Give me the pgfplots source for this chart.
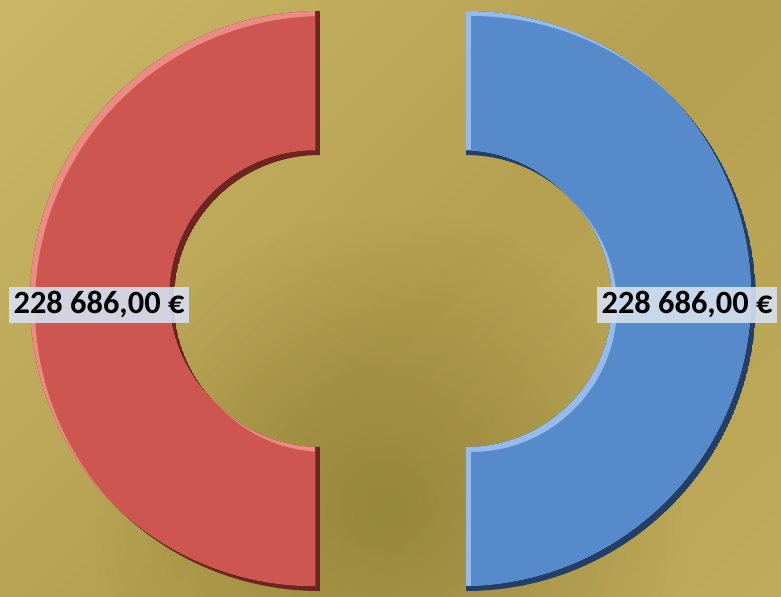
\documentclass[border=0pt]{standalone}
\usepackage{pgfplots}
\pgfplotsset{compat=1.18}
\usepackage{pgfplotstable}
\usetikzlibrary{fadings}
\usepackage{fontspec}
\setmainfont{Carlito}

\pgfplotstableread{
label value
Blue 228686
Red 228686
}\donut
\pgfplotstablegetelem{0}{value}\of\donut \let\vA\pgfplotsretval
\pgfplotstablegetelem{1}{value}\of\donut \let\vB\pgfplotsretval

% angles (degrees), clockwise from 12 o'clock
\edef\aA{\fpeval{\vA/(\vA+\vB)*360}}
\edef\aB{\fpeval{\vB/(\vA+\vB)*360}}
\edef\sA{90}
\edef\eA{\fpeval{90-\aA}}
\edef\sB{\eA}
\edef\eB{\fpeval{90-\aA-\aB}}
\edef\bA{\fpeval{90-\aA/2}}
\edef\bB{\fpeval{90-\aA-\aB/2}}
% exploded centres (pixels, y up)
\edef\cxA{\fpeval{393+73*cosd(\bA)}}
\edef\cyA{\fpeval{295+73*sind(\bA)}}
\edef\cxB{\fpeval{393+73*cosd(\bB)}}
\edef\cyB{\fpeval{295+73*sind(\bB)}}
% label positions
\edef\lxA{\fpeval{393+294*cosd(\bA)}}
\edef\lxB{\fpeval{393+294*cosd(\bB)}}

\definecolor{bgLight}{HTML}{CAB667}
\definecolor{bgMid}{HTML}{B4A050}
\definecolor{bgEnd}{HTML}{C0AA5B}
\definecolor{bgBlob}{HTML}{4D4600}
\definecolor{redBase}{HTML}{CD5651}
\definecolor{redLight}{HTML}{EC8A84}
\definecolor{redDark}{HTML}{6E2522}
\definecolor{blueBase}{HTML}{578ACB}
\definecolor{blueLight}{HTML}{94BBEA}
\definecolor{blueDark}{HTML}{223F68}
\definecolor{labelBg}{HTML}{D6E0EF}

\pgfdeclareverticalshading{goldbg}{100bp}{%
  color(0bp)=(bgEnd); color(15bp)=(bgEnd);
  color(48bp)=(bgMid); color(85bp)=(bgLight); color(100bp)=(bgLight)}
\tikzfading[name=blob, inner color=transparent!0, outer color=transparent!100]

\newcommand\slicepath[4]{(axis cs:#1,#2) ++(#3:145pt) arc[start angle=#3,end angle=#4,radius=145pt] -- ++(#4+180:72pt) arc[start angle=#4,end angle=#3,radius=73pt] -- cycle}
\newcommand\bevelslice[7]{%
  \begin{scope}
    \clip \slicepath{#1}{#2}{#3}{#4};
    \fill[#7] \slicepath{#1}{#2}{#3}{#4};
    \fill[#6] \slicepath{#1-5}{#2+5}{#3}{#4};
    \begin{scope}
      \clip \slicepath{#1+5}{#2-5}{#3}{#4};
      \fill[#5] \slicepath{#1-5}{#2+5}{#3}{#4};
    \end{scope}
  \end{scope}}

\begin{document}
\begin{tikzpicture}
\begin{axis}[
  scale only axis, width=390.5pt, height=298pt,
  xmin=0, xmax=781, ymin=0, ymax=596,
  hide axis, clip=false,
]
\begin{scope}
  \clip (rel axis cs:0,0) rectangle (rel axis cs:1,1);
  \shade[shading=goldbg, shading angle=45]
    (rel axis cs:0,0) rectangle (rel axis cs:1,1);
  \fill[bgBlob, fill opacity=0.3, path fading=blob] (axis cs:390,86) circle[radius=150pt];
\end{scope}
\bevelslice{\cxA}{\cyA}{\sA}{\eA}{blueBase}{blueLight}{blueDark}
\bevelslice{\cxB}{\cyB}{\sB}{\eB}{redBase}{redLight}{redDark}
\node[fill=labelBg, fill opacity=0.9, text opacity=1, inner xsep=2.3pt, inner ysep=1pt,
      text height=12pt, text depth=4pt,
      font=\bfseries\fontsize{16.2}{19}\selectfont] at (axis cs:\lxB,291)
  {\pgfmathprintnumber[fixed,fixed zerofill,precision=2,use comma,1000 sep={\ },assume math mode=true]{\vB}~€};
\node[fill=labelBg, fill opacity=0.9, text opacity=1, inner xsep=2.3pt, inner ysep=1pt,
      text height=12pt, text depth=4pt,
      font=\bfseries\fontsize{16.2}{19}\selectfont] at (axis cs:\lxA,291)
  {\pgfmathprintnumber[fixed,fixed zerofill,precision=2,use comma,1000 sep={\ },assume math mode=true]{\vA}~€};
\end{axis}
\end{tikzpicture}
\end{document}
